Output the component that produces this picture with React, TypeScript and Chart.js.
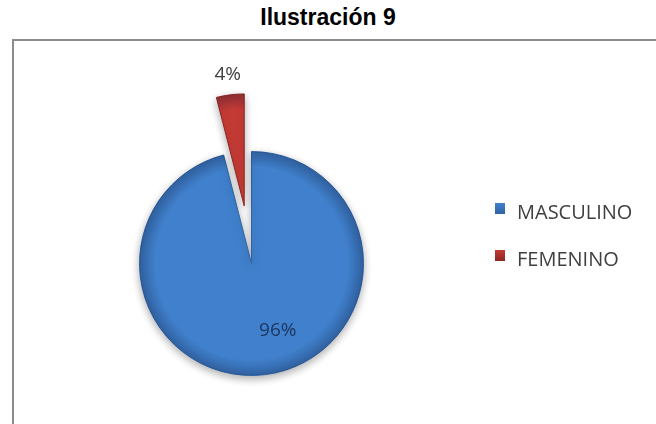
import React, { useEffect, useRef } from "react";
import { Chart, registerables } from "chart.js";

Chart.register(...registerables);

const chartTitle = "Ilustración 9";
const categories = ["MASCULINO", "FEMENINO"];
const percentages = [96, 4];
const sliceColors = ["#4080CC", "#C43A35"];
const sliceBorders = ["#2F63A6", "#8E2422"];
const labelColors = ["#1C355E", "#404040"];
const explodeOffsets = [0, 58];

const W = 656;
const H = 424;

const piePlugin = {
  id: "pieDecor",
  afterDatasetUpdate(chart: any, args: any) {
    const meta = chart.getDatasetMeta(args.index);
    meta.data.forEach((arc: any, i: number) => {
      const d = explodeOffsets[i] || 0;
      if (!d) return;
      const mid = (arc.startAngle + arc.endAngle) / 2;
      arc.x = arc.x + Math.cos(mid) * d;
      arc.y = arc.y + Math.sin(mid) * d;
    });
  },
  beforeDatasetsDraw(chart: any) {
    const ctx = chart.ctx;
    ctx.save();
    ctx.shadowColor = "rgba(0,0,0,0.32)";
    ctx.shadowBlur = 8;
    ctx.shadowOffsetX = 0;
    ctx.shadowOffsetY = 3;
  },
  afterDatasetsDraw(chart: any) {
    const ctx = chart.ctx;
    ctx.restore();
    const meta = chart.getDatasetMeta(0);
    meta.data.forEach((arc: any) => {
      const { x, y, startAngle, endAngle, outerRadius } = arc;
      ctx.save();
      ctx.beginPath();
      ctx.moveTo(x, y);
      ctx.arc(x, y, outerRadius, startAngle, endAngle);
      ctx.closePath();
      ctx.clip();
      const g = ctx.createRadialGradient(x, y, outerRadius * 0.86, x, y, outerRadius);
      g.addColorStop(0, "rgba(10,20,50,0)");
      g.addColorStop(1, "rgba(10,20,50,0.28)");
      ctx.fillStyle = g;
      ctx.fillRect(x - outerRadius, y - outerRadius, outerRadius * 2, outerRadius * 2);
      ctx.restore();
    });
    ctx.save();
    ctx.font = '19px "Open Sans", sans-serif';
    ctx.textAlign = "center";
    ctx.textBaseline = "middle";
    meta.data.forEach((arc: any, i: number) => {
      const { x, y, startAngle, endAngle, outerRadius } = arc;
      const mid = (startAngle + endAngle) / 2;
      let px: number;
      let py: number;
      if (explodeOffsets[i] > 0) {
        px = x + Math.cos(mid) * (outerRadius + 20);
        py = y + Math.sin(mid) * (outerRadius + 20);
      } else {
        const a = mid - 0.25;
        px = x + Math.cos(a) * outerRadius * 0.64;
        py = y + Math.sin(a) * outerRadius * 0.64;
      }
      ctx.fillStyle = labelColors[i];
      ctx.fillText(percentages[i] + "%", px, py);
    });
    ctx.restore();
  },
};

function ChartCanvas() {
  const ref = useRef<HTMLCanvasElement | null>(null);
  useEffect(() => {
    if (!ref.current) return;
    const chart = new Chart(ref.current, {
      type: "pie",
      data: {
        labels: categories,
        datasets: [
          {
            data: percentages,
            backgroundColor: sliceColors,
            borderColor: sliceBorders,
            borderWidth: 1,
          },
        ],
      },
      options: {
        responsive: false,
        animation: false,
        events: [],
        layout: { padding: { left: 139, top: 151, right: 292, bottom: 48 } },
        plugins: {
          legend: { display: false },
          tooltip: { enabled: false },
          title: { display: false },
        },
      },
      plugins: [piePlugin],
    });
    return () => chart.destroy();
  }, []);
  return (
    <canvas
      ref={ref}
      width={W}
      height={H}
      style={{ position: "absolute", left: 0, top: 0, width: W, height: H }}
    />
  );
}

export default function App() {
  const legendTops = [200, 247];
  return (
    <div
      style={{
        position: "fixed",
        left: 0,
        top: 0,
        width: W,
        height: H,
        background: "#ffffff",
        overflow: "hidden",
      }}
    >
      <div
        style={{
          position: "absolute",
          left: 12,
          top: 39,
          width: 700,
          height: 500,
          borderLeft: "2px solid #8c8c8c",
          borderTop: "2px solid #8c8c8c",
        }}
      />
      <div
        style={{
          position: "absolute",
          left: 0,
          top: 6,
          width: W,
          textAlign: "center",
          font: 'bold 23px "Liberation Sans", Arial, sans-serif',
          lineHeight: "23px",
          color: "#000",
        }}
      >
        {chartTitle}
      </div>
      <ChartCanvas />
      {categories.map((c, i) => (
        <div key={c}>
          <div
            style={{
              position: "absolute",
              left: 495,
              top: legendTops[i] + 3,
              width: 10,
              height: 11,
              background: `linear-gradient(180deg, ${sliceColors[i]} 0%, ${sliceBorders[i]} 100%)`,
            }}
          />
          <div
            style={{
              position: "absolute",
              left: 517,
              top: legendTops[i],
              font: '20px "Open Sans", sans-serif',
              lineHeight: "24px",
              color: "#404040",
              whiteSpace: "nowrap",
            }}
          >
            {c}
          </div>
        </div>
      ))}
    </div>
  );
}
